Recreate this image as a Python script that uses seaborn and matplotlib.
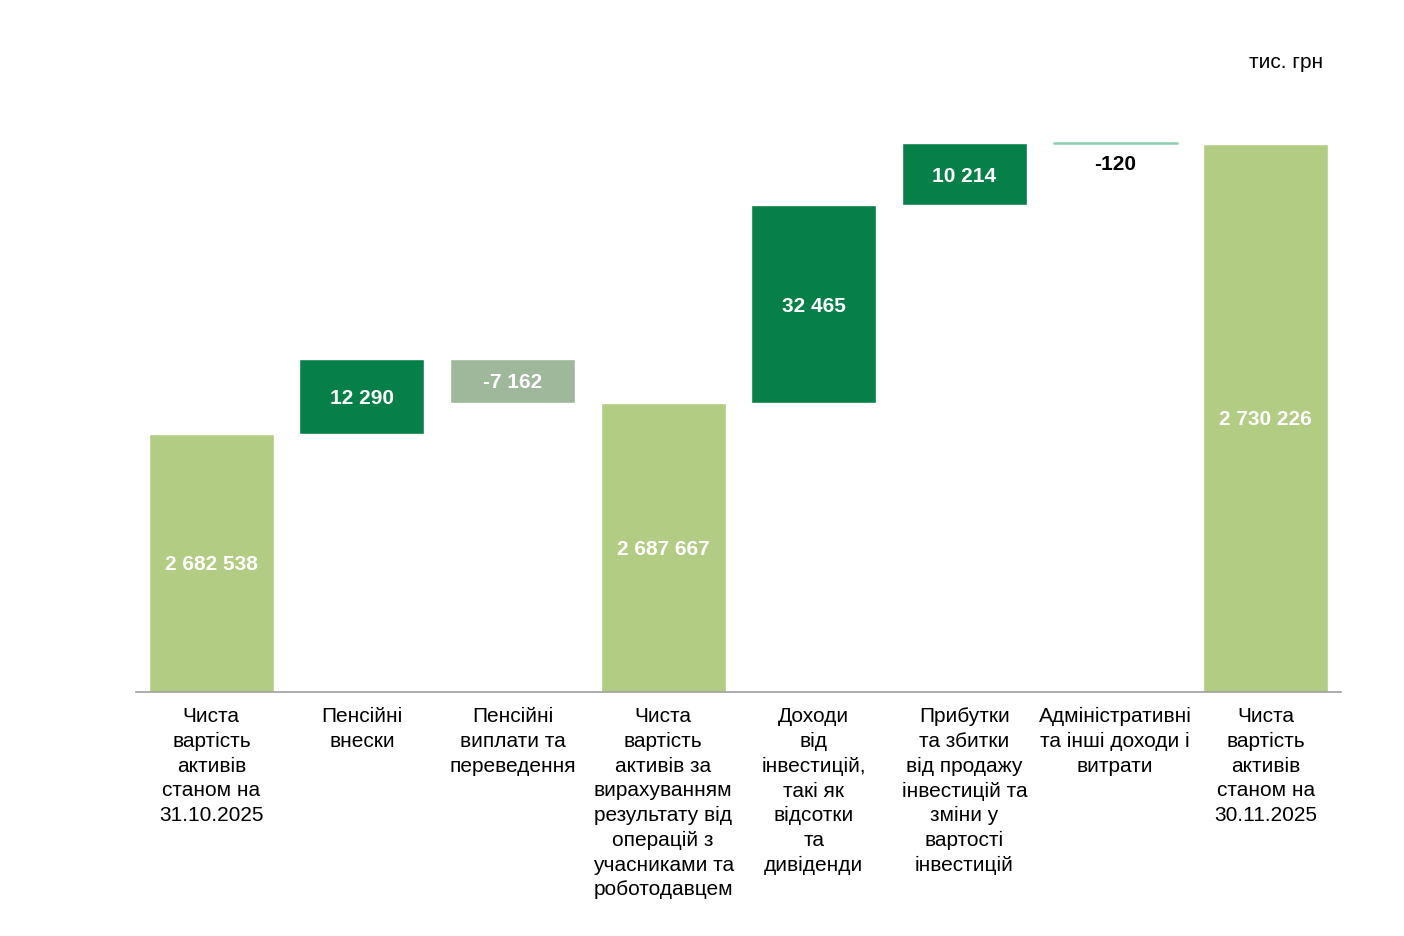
import numpy as np
import pandas as pd
import matplotlib
matplotlib.use("Agg")
import matplotlib.pyplot as plt
import seaborn as sns

# Data (тис. грн)
categories = [
    "Чиста\nвартість\nактивів\nстаном на\n31.10.2025",
    "Пенсійні\nвнески",
    "Пенсійні\nвиплати та\nпереведення",
    "Чиста\nвартість\nактивів за\nвирахуванням\nрезультату від\nоперацій з\nучасниками та\nроботодавцем",
    "Доходи\nвід\nінвестицій,\nтакі як\nвідсотки\nта\nдивіденди",
    "Прибутки\nта збитки\nвід продажу\nінвестицій та\nзміни у\nвартості\nінвестицій",
    "Адміністративні\nта інші доходи і\nвитрати",
    "Чиста\nвартість\nактивів\nстаном на\n30.11.2025",
]
values = [2682538, 12290, -7162, 2687667, 32465, 10214, -120, 2730226]
value_labels = ["2 682 538", "12 290", "-7 162", "2 687 667",
                "32 465", "10 214", "-120", "2 730 226"]
kinds = ["total", "up", "down", "total", "up", "up", "down", "total"]

# waterfall bottoms / tops
bottoms, tops = [], []
running = 0
for v, k in zip(values, kinds):
    if k == "total":
        running = v
        bottoms.append(0)
        tops.append(v)
    else:
        b = running
        running = running + v
        bottoms.append(min(b, running))
        tops.append(max(b, running))

colors = {"total": "#b2cc84", "up": "#067f48", "down": "#9fb89b"}
df = pd.DataFrame({"cat": categories, "top": tops, "bottom": bottoms,
                   "kind": kinds})

sns.set_style("white")
plt.rcParams["font.family"] = ["Liberation Sans", "DejaVu Sans"]
plt.rcParams["text.color"] = "black"
plt.rcParams["xtick.color"] = "black"

fig = plt.figure(figsize=(14.04, 9.36), dpi=100)
ax = fig.add_axes([136 / 1404, (936 - 692) / 936, (1341 - 136) / 1404, (692 - 100) / 936])

ymin, ymax = 2640100, 2737460
pal = [colors[k] for k in kinds]
pal[6] = "#8ccdae"
sns.barplot(data=df, x="cat", y="top", hue="cat", palette=pal, legend=False,
            width=0.83, saturation=1, ax=ax)
# white mask for the floating part
mask = df["bottom"].where(df["kind"] != "total", 0)
sns.barplot(x=df["cat"], y=mask, color="white", width=0.85, saturation=1, ax=ax)
ax.set_ylim(ymin, ymax)
ax.set_xlim(-0.5, 7.5)

# the -120 bar is drawn as a thin line
ax.hlines(tops[6], 6 - 0.415, 6 + 0.415, color="#8ccdae", lw=1.8, zorder=5)

for i, (lab, k) in enumerate(zip(value_labels, kinds)):
    if k == "total":
        yc = (ymin + tops[i]) / 2
        col = "white"
    elif i == 6:
        yc = bottoms[i] - 3000
        col = "black"
    else:
        yc = (bottoms[i] + tops[i]) / 2
        col = "white"
    ax.text(i, yc, lab, ha="center", va="center_baseline", color=col,
            fontsize=15, fontweight="bold")

ax.set_xlabel("")
ax.set_ylabel("")
ax.set_yticks([])
ax.set_xticks(range(len(categories)))
ax.set_xticklabels(categories, fontsize=15, linespacing=1.38, va="top")
ax.tick_params(axis="x", length=0, pad=11)
for s in ["top", "right", "left"]:
    ax.spines[s].set_visible(False)
ax.spines["bottom"].set_color("#a0a0a0")
ax.spines["bottom"].set_linewidth(1.2)

fig.text(1323 / 1404, 1 - 63 / 936, "тис. грн", ha="right", va="center",
         fontsize=15)

fig.savefig("out.png", dpi=100, facecolor="white")
